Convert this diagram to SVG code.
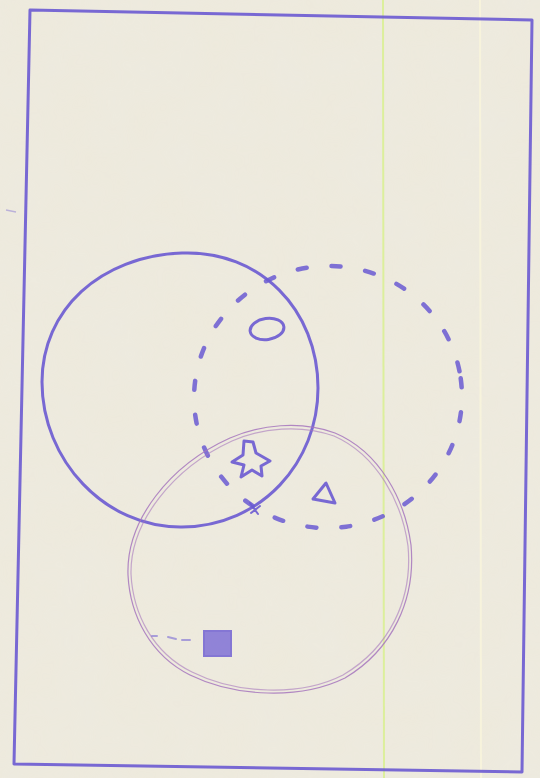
<svg xmlns="http://www.w3.org/2000/svg" width="540" height="778" viewBox="0 0 540 778">
<style>
.ink{fill:none;stroke:#6a5ad2;stroke-width:3;stroke-linecap:round;stroke-linejoin:round;opacity:.9}
.pink{fill:none;stroke:#a676bd;stroke-width:1.2;opacity:.85}
.dash{fill:none;stroke:#6a5ad2;stroke-width:4.5;stroke-linecap:round;stroke-dasharray:9 25;opacity:.85}
</style>
<defs>
<filter id="paper" x="0" y="0" width="100%" height="100%">
<feTurbulence type="fractalNoise" baseFrequency="0.02" numOctaves="3" seed="4"/>
<feColorMatrix type="matrix" values="0 0 0 0 0.80  0 0 0 0 0.82  0 0 0 0 0.86  0 0 0 0.35 0"/>
</filter>
</defs>
<rect width="540" height="778" fill="#eeeadc"/>
<rect width="540" height="778" filter="url(#paper)" opacity="0.5"/>
<line x1="383" y1="0" x2="384" y2="778" stroke="#dcef9c" stroke-width="2"/>
<line x1="480" y1="0" x2="481" y2="778" stroke="#f7f3dc" stroke-width="2"/>
<g id="frame">
<path class="ink" d="M30,10 L532,20 L522,772 L14,764 Z"/>
</g>
<g id="circle-a">
<path class="ink" d="M42,382 C42,310 100,256 182,253 C260,250 318,310 318,388 C318,462 262,526 182,527 C105,528 42,460 42,382 Z"/>
<path class="ink" d="M250,503 L258,514 M251,513 L260,506" style="stroke-width:2"/>
</g>
<g id="circle-b">
<ellipse class="dash" cx="328" cy="397" rx="134" ry="131" transform="rotate(-8 328 397)"/>
</g>
<g id="circle-c">
<path class="pink" d="M128,575 C126,520 170,465 230,438 C260,425 300,420 335,433 C380,452 405,500 411,545 C416,600 392,650 345,678 C300,700 235,697 190,675 C150,655 130,615 128,575 Z"/>
<path class="pink" d="M131,574 C130,522 173,468 232,441 C262,428 300,424 334,436 C377,455 402,502 408,546 C413,600 389,648 343,675 C300,697 236,694 192,672 C153,653 133,614 131,574 Z" style="opacity:.6"/>
</g>
<g id="oval">
<ellipse class="ink" cx="267" cy="329" rx="17" ry="10.5" transform="rotate(-8 267 329)"/>
</g>
<g id="star">
<path class="ink" d="M244,441 L253,442 L256,453 L270,461 L261,466 L262,476 L252,470 L241,477 L244,465 L232,462 L243,455 Z"/>
</g>
<g id="triangle">
<path class="ink" d="M326,483 L313,499 L335,503 Z"/>
</g>
<g id="square">
<rect x="204" y="631" width="27" height="25" fill="#7a6ad6" stroke="#6a5ad2" stroke-width="2" opacity="0.8"/>
</g>
<g id="marks">
<path d="M152,636 L157,636 M168,637 L176,639 M182,640 L190,640" stroke="#7a6ad6" stroke-width="2" stroke-linecap="round" opacity="0.6"/>
<path d="M6,210 L16,212" stroke="#8a7ad6" stroke-width="1.5" opacity="0.5"/>
</g>
</svg>
